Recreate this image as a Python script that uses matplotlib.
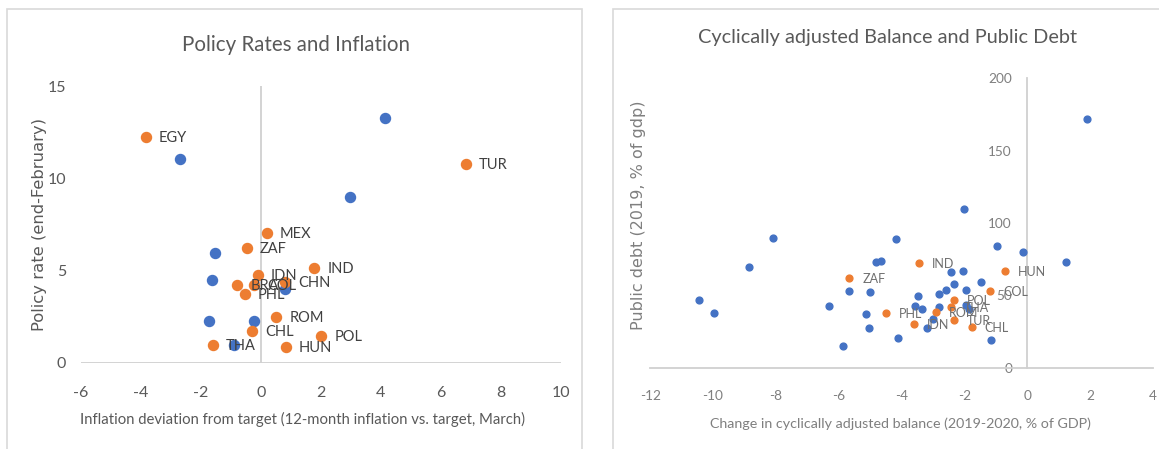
import matplotlib
matplotlib.use('Agg')
import matplotlib.pyplot as plt
from matplotlib.patches import Rectangle

# left chart: policy rates vs inflation deviation
left_names = ['EGY', 'TUR', 'MEX', 'ZAF', 'IND', 'IDN', 'BRA', 'COL', 'CHN',
              'PHL', 'ROM', 'CHL', 'POL', 'THA', 'HUN']
left_orange_x = [-3.82, 6.84, 0.20, -0.47, 1.79, -0.09, -0.78, -0.22, 0.82,
                 -0.53, 0.52, -0.29, 2.02, -1.60, 0.84]
left_orange_y = [12.25, 10.77, 7.02, 6.24, 5.14, 4.76, 4.22, 4.22, 4.37,
                 3.75, 2.47, 1.73, 1.46, 0.99, 0.88]
left_blue_x = [4.14, -2.68, 2.97, -1.51, -1.62, 0.82, -1.72, -0.24, -0.90]
left_blue_y = [13.26, 11.03, 9.00, 5.97, 4.49, 3.99, 2.26, 2.29, 0.99]

# right chart: cyclically adjusted balance vs public debt
right_names = ['ZAF', 'IND', 'HUN', 'COL', 'POL', 'THA', 'ROM', 'PHL', 'TUR',
               'IDN', 'CHL']
right_orange_x = [-5.67, -3.44, -0.71, -1.19, -2.33, -2.43, -2.90, -4.51,
                  -2.33, -3.60, -1.77]
right_orange_y = [62.3, 72.4, 66.7, 53.4, 47.1, 42.3, 38.8, 37.6, 33.3,
                  30.6, 28.5]
right_blue_x = [-8.10, -8.86, -10.45, -9.98, -6.31, -5.88, -5.66, -5.02,
                -5.13, -5.05, -4.81, -4.65, -4.18, -4.10, -2.00, -0.98,
                -0.15, 1.23, 1.89, -2.44, -2.06, -1.47, -2.33, -2.60, -1.95,
                -2.81, -3.47, -1.95, -1.87, -3.57, -3.35, -2.81, -3.00,
                -3.20, -1.16]
right_blue_y = [89.4, 69.7, 46.7, 38.1, 43.0, 15.2, 53.3, 52.4, 37.4, 27.6,
                73.1, 74.0, 88.8, 21.0, 109.7, 84.1, 79.8, 73.3, 171.9, 66.3,
                66.6, 59.2, 57.7, 54.0, 54.0, 50.8, 50.0, 43.4, 41.0, 42.9,
                40.9, 42.1, 33.6, 27.8, 19.5]

BLUE = '#4472C4'
ORANGE = '#ED7D31'
AXIS = '#d0d0d0'
W, H = 1159, 449

plt.rcParams['font.family'] = ['Lato', 'DejaVu Sans']
plt.rcParams['axes.unicode_minus'] = False

fig = plt.figure(figsize=(W / 100, H / 100), dpi=100)
fig.patch.set_facecolor('white')

# panel frames
fig.add_artist(Rectangle((7 / W, -0.1), 575 / W, 1.1 - 9 / H,
                         transform=fig.transFigure, fill=False,
                         edgecolor='#d9d9d9', lw=1.2))
fig.add_artist(Rectangle((613 / W, -0.1), 0.6, 1.1 - 9 / H,
                         transform=fig.transFigure, fill=False,
                         edgecolor='#d9d9d9', lw=1.2))

# ---- left chart ----
ax1 = fig.add_axes([80.6 / W, 1 - 363 / H, 480.4 / W, 277 / H])
ax1.set_xlim(-6, 10)
ax1.set_ylim(0, 15)
for s in ax1.spines.values():
    s.set_visible(False)
ax1.axhline(0, color=AXIS, lw=1.3, zorder=1)
ax1.axvline(0, color=AXIS, lw=1.3, zorder=1)
ax1.set_xticks(range(-6, 11, 2))
ax1.set_yticks([0, 5, 10, 15])
ax1.tick_params(axis='x', length=0, pad=16.5, labelsize=11.5, labelcolor='#595959')
ax1.tick_params(axis='y', length=0, pad=10.5, labelsize=11.5, labelcolor='#595959')
ax1.scatter(left_blue_x, left_blue_y, s=52, color=BLUE, zorder=3, clip_on=False)
ax1.scatter(left_orange_x, left_orange_y, s=52, color=ORANGE, zorder=3, clip_on=False)
for name, x, y in zip(left_names, left_orange_x, left_orange_y):
    ax1.annotate(name, (x, y), xytext=(13, -1), textcoords='offset pixels',
                 va='center', ha='left', fontsize=10.5, color='#404040',
                 zorder=4)
fig.text(296 / W, 1 - 45 / H, 'Policy Rates and Inflation', ha='center',
         va='center', fontsize=14.8, color='#595959')
fig.text(303 / W, 1 - 419 / H,
         'Inflation deviation from target (12-month inflation vs. target, March)',
         ha='center', va='center', fontsize=10.7, color='#595959')
fig.text(40 / W, 1 - 224 / H, 'Policy rate (end-February)', ha='center',
         va='center', rotation=90, fontsize=11.8, color='#595959',
         family='DejaVu Sans')

# ---- right chart ----
ax2 = fig.add_axes([650.2 / W, 1 - 368 / H, 502.8 / W, 290 / H])
ax2.set_xlim(-12, 4)
ax2.set_ylim(0, 200)
for k in ['top', 'right']:
    ax2.spines[k].set_visible(False)
ax2.spines['left'].set_position(('data', 0))
ax2.spines['left'].set_color(AXIS)
ax2.spines['bottom'].set_color(AXIS)
ax2.spines['left'].set_linewidth(1.3)
ax2.spines['bottom'].set_linewidth(1.3)
ax2.set_xticks(range(-12, 5, 2))
ax2.set_yticks([0, 50, 100, 150, 200])
ax2.tick_params(axis='x', length=0, pad=16, labelsize=9.8, labelcolor='#7f7f7f')
ax2.tick_params(axis='y', length=0, pad=11, labelsize=9.8, labelcolor='#7f7f7f')
ax2.scatter(right_blue_x, right_blue_y, s=24, color=BLUE, zorder=3, clip_on=False)
ax2.scatter(right_orange_x, right_orange_y, s=24, color=ORANGE, zorder=3, clip_on=False)
for name, x, y in zip(right_names, right_orange_x, right_orange_y):
    ax2.annotate(name, (x, y), xytext=(13, -1), textcoords='offset pixels',
                 va='center', ha='left', fontsize=9, color='#6f6f6f',
                 zorder=4)
fig.text(887 / W, 1 - 38 / H, 'Cyclically adjusted Balance and Public Debt',
         ha='center', va='center', fontsize=14.3, color='#595959')
fig.text(900 / W, 1 - 424 / H,
         'Change in cyclically adjusted balance (2019-2020, % of GDP)',
         ha='center', va='center', fontsize=10.3, color='#7f7f7f')
fig.text(638 / W, 1 - 215 / H, 'Public debt (2019, % of gdp)', ha='center',
         va='center', rotation=90, fontsize=11.5, color='#7f7f7f',
         family='DejaVu Sans')

fig.savefig('out.png', dpi=100)
